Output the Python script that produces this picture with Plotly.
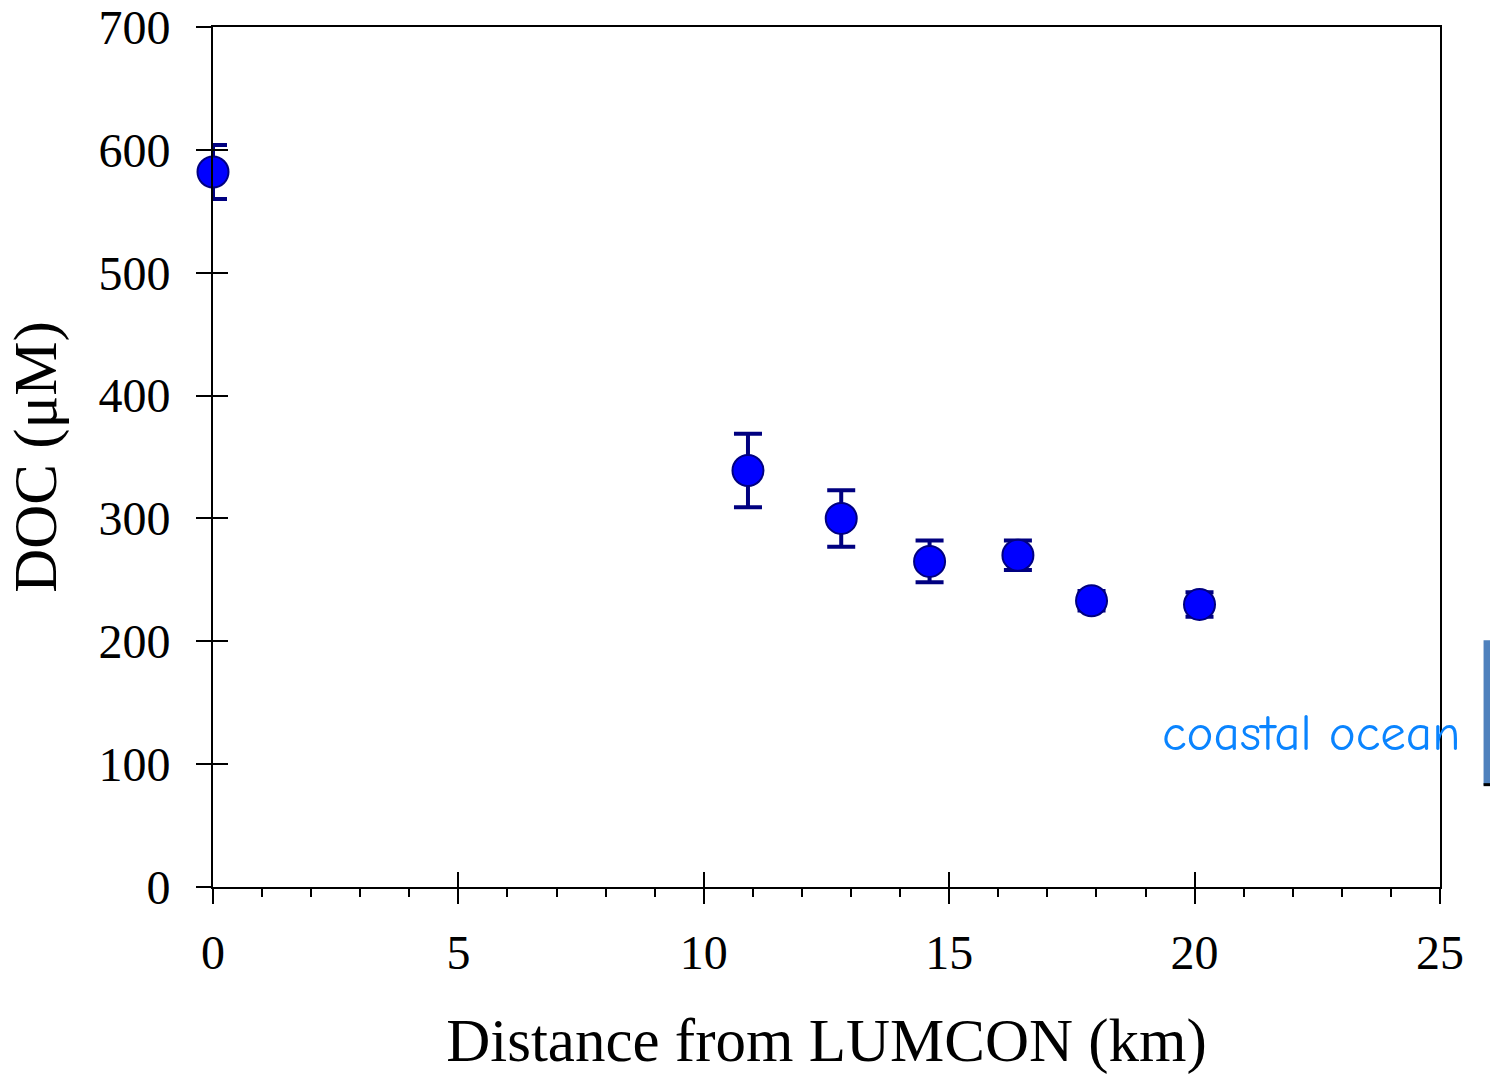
import plotly.graph_objects as go

distance_km = [0.0, 10.9, 12.8, 14.6, 16.4, 17.9, 20.1]
doc_uM = [582, 339, 300, 265, 270, 233, 230]
doc_err = [22, 30, 23, 17, 12, 8, 10]

x_ticks = [0, 5, 10, 15, 20, 25]
y_ticks = [0, 100, 200, 300, 400, 500, 600, 700]

serif = "Liberation Serif, Times New Roman, serif"

fig = go.Figure()
fig.add_trace(go.Scatter(
    x=distance_km, y=doc_uM, mode="markers",
    marker=dict(size=31, color="#0000FF", line=dict(color="#000080", width=2)),
    error_y=dict(type="data", array=doc_err, visible=True, color="#000080",
                 thickness=4, width=14),
    showlegend=False, cliponaxis=False,
))
# overlay axes to produce crossing tick marks
fig.add_trace(go.Scatter(x=[None], y=[None], xaxis="x2", yaxis="y2", showlegend=False))

axis_common = dict(showgrid=False, zeroline=False, linecolor="black", linewidth=2,
                   tickcolor="black", tickwidth=2, ticklen=15, automargin=False)

fig.update_layout(
    width=1490, height=1075,
    margin=dict(l=213, r=50, t=27, b=188),
    paper_bgcolor="white", plot_bgcolor="white",
    font=dict(family=serif, color="black", size=48),
    xaxis=dict(**axis_common, range=[0, 25], tickvals=x_ticks, ticks="outside",
               mirror=True, showline=True, ticklabeloverflow="allow",
               minor=dict(dtick=1, tick0=0, ticks="outside", ticklen=8,
                          tickcolor="black", tickwidth=2),
               ticklabelstandoff=7,
               title=dict(text="Distance from LUMCON (km)", font=dict(size=61), standoff=43)),
    yaxis=dict(**axis_common, range=[0, 700], tickvals=y_ticks, ticks="outside",
               mirror=True, showline=True, ticklabelstandoff=16, ticklabeloverflow="allow",
               title=dict(text="DOC (μM)", font=dict(size=61), standoff=22)),
    xaxis2=dict(**axis_common, range=[0, 25], tickvals=x_ticks, ticks="inside",
                overlaying="x", side="bottom", showticklabels=False, showline=False,
                anchor="y2"),
    yaxis2=dict(**axis_common, range=[0, 700], tickvals=y_ticks, ticks="inside",
                overlaying="y", side="left", showticklabels=False, showline=False,
                anchor="x2"),
)

fig.add_annotation(text="coastal ocean", x=1.0, y=100, xref="paper", yref="y",
                   xanchor="right", yanchor="middle", showarrow=False,
                   xshift=22, yshift=31,
                   font=dict(family="Comic Sans MS, Comic Neue, Lato, sans-serif",
                             size=51, color="#0A84FF"))
fig.add_shape(type="rect", xref="paper", yref="paper", x0=1.0355, x1=1.0415,
              y0=0.119, y1=0.287, fillcolor="#4F81BD", line=dict(width=0))
fig.add_shape(type="line", xref="paper", yref="paper", x0=1.0355, x1=1.0415,
              y0=0.119, y1=0.119, line=dict(color="black", width=3))

fig.write_html("out.html", config={"displayModeBar": False},
               post_script="document.body.style.margin='0';document.body.style.overflow='hidden';")
